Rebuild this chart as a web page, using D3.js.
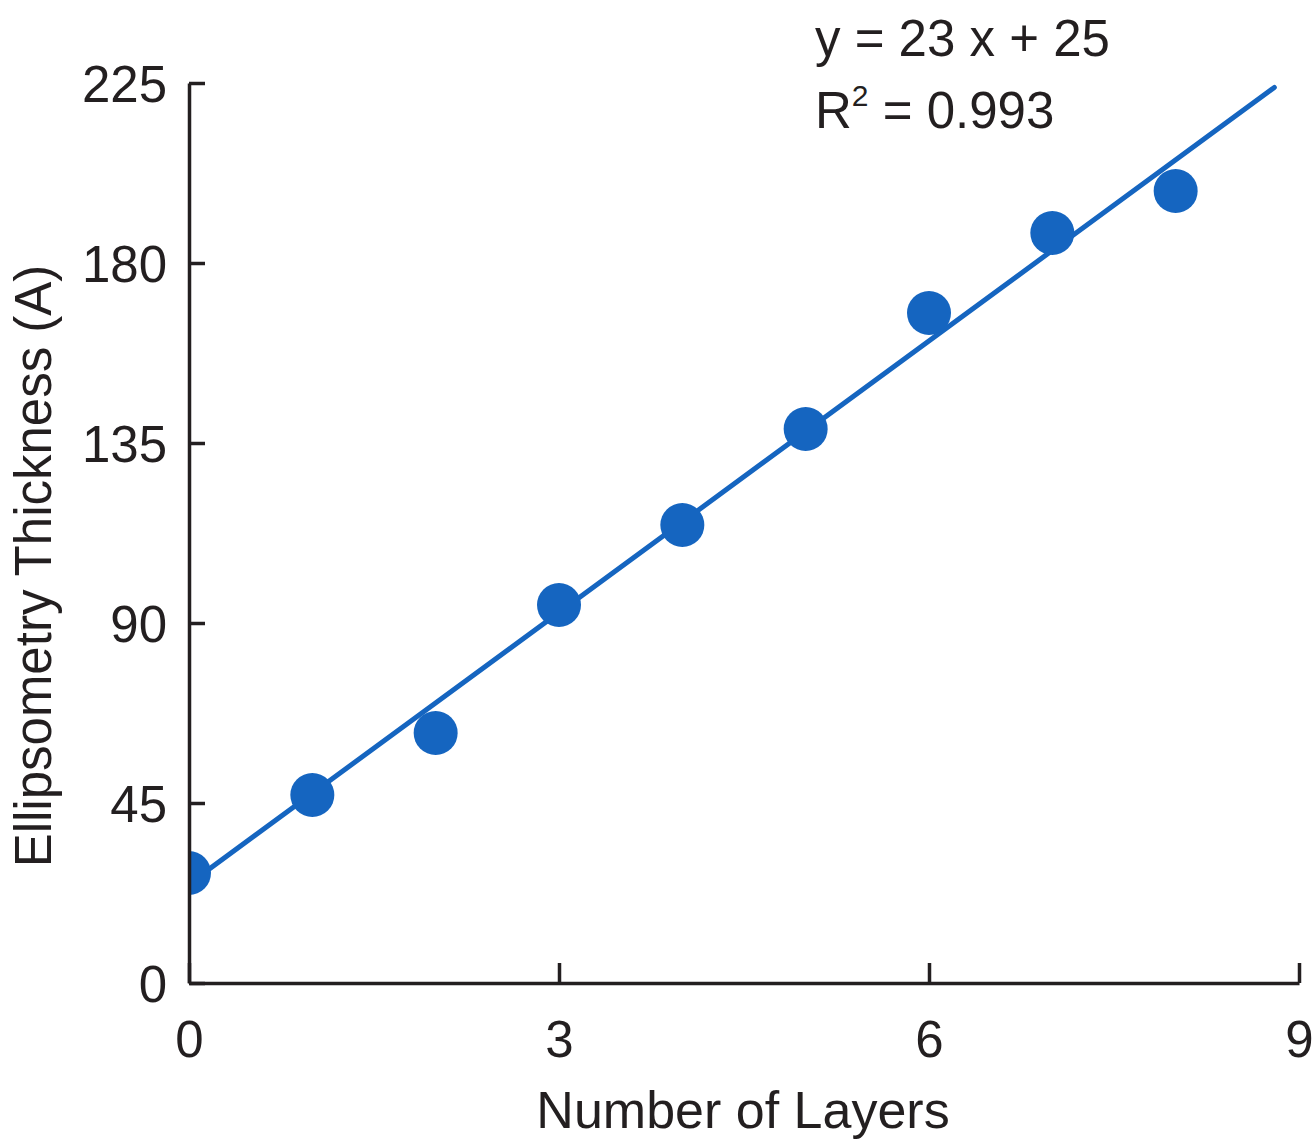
<!DOCTYPE html>
<html>
<head>
<meta charset="utf-8">
<script src="https://cdn.jsdelivr.net/npm/d3@7"></script>
<style>
  body { margin: 0; background: #fff; }
  text { font-family: "Liberation Sans", Arial, sans-serif; fill: #231f20; }
</style>
</head>
<body>
<script>
// data
var layers = [0, 1, 2, 3, 4, 5, 6, 7, 8];
var thickness = [27.5, 47, 62.5, 94.5, 114.5, 138.5, 167.5, 187.5, 198];
var xTicks = [0, 3, 6, 9];
var yTicks = [0, 45, 90, 135, 180, 225];
var fitEnd = 8.8;

var margin = {top: 83, right: 15, bottom: 159, left: 189},
   width = 1314 - margin.left - margin.right,
   height = 1142 - margin.top - margin.bottom;

var blue = "#1565c0";

var x = d3.scaleLinear().domain([0, 9]).range([0, width]);
var y = d3.scaleLinear().domain([0, 225]).range([height, 0]);

var svg = d3.select("body").append("svg")
   .attr("width", 1314)
   .attr("height", 1142);

svg.append("defs").append("clipPath")
   .attr("id", "plot")
   .append("rect")
   .attr("x", 0).attr("y", -80)
   .attr("width", width + 20).attr("height", height + 80);

var g = svg.append("g")
   .attr("transform", "translate(" + margin.left + "," + margin.top + ")");

// least squares fit of the points
var mx = d3.mean(layers), my = d3.mean(thickness);
var sxy = d3.sum(layers, function(d, i) { return (d - mx) * (thickness[i] - my); });
var sxx = d3.sum(layers, function(d) { return (d - mx) * (d - mx); });
var slope = sxy / sxx, icpt = my - slope * mx;

var marks = g.append("g").attr("clip-path", "url(#plot)");

// fit line
marks.append("line")
   .attr("x1", x(0)).attr("y1", y(icpt))
   .attr("x2", x(fitEnd)).attr("y2", y(icpt + slope * fitEnd))
   .attr("stroke", blue)
   .attr("stroke-width", 5)
   .attr("stroke-linecap", "round");

// points
marks.selectAll(".pt")
   .data(layers)
   .enter().append("circle")
   .attr("class", "pt")
   .attr("cx", function(d) { return x(d); })
   .attr("cy", function(d, i) { return y(thickness[i]); })
   .attr("r", 22)
   .attr("fill", blue);

// axes
var xAxis = g.append("g")
   .attr("transform", "translate(0," + height + ")")
   .call(d3.axisBottom(x).tickValues(xTicks).tickSize(-20).tickSizeOuter(0).tickPadding(38));
var yAxis = g.append("g")
   .call(d3.axisLeft(y).tickValues(yTicks).tickSize(-16).tickSizeOuter(0).tickPadding(22));

[xAxis, yAxis].forEach(function(a) {
   a.select(".domain").attr("stroke", "#231f20").attr("stroke-width", 3.5);
   a.selectAll(".tick line").attr("stroke", "#231f20").attr("stroke-width", 3.5);
   a.selectAll(".tick text").style("font-size", "51px").attr("fill", "#231f20");
});
yAxis.selectAll(".tick text").attr("dy", "0.36em");

// axis titles
svg.append("text")
   .attr("x", 743).attr("y", 1128)
   .attr("text-anchor", "middle")
   .style("font-size", "52px")
   .text("Number of Layers");

svg.append("text")
   .attr("transform", "translate(51,566) rotate(-90)")
   .attr("text-anchor", "middle")
   .style("font-size", "51px")
   .text("Ellipsometry Thickness (A)");

// equation
svg.append("text")
   .attr("x", 815).attr("y", 56)
   .style("font-size", "51px")
   .text("y = 23 x + 25");

var r2 = svg.append("text")
   .attr("x", 815).attr("y", 128)
   .style("font-size", "51px");
r2.append("tspan").text("R");
r2.append("tspan").attr("dy", -22).style("font-size", "30px").text("2");
r2.append("tspan").attr("dy", 22).text(" = 0.993");
</script>
</body>
</html>
